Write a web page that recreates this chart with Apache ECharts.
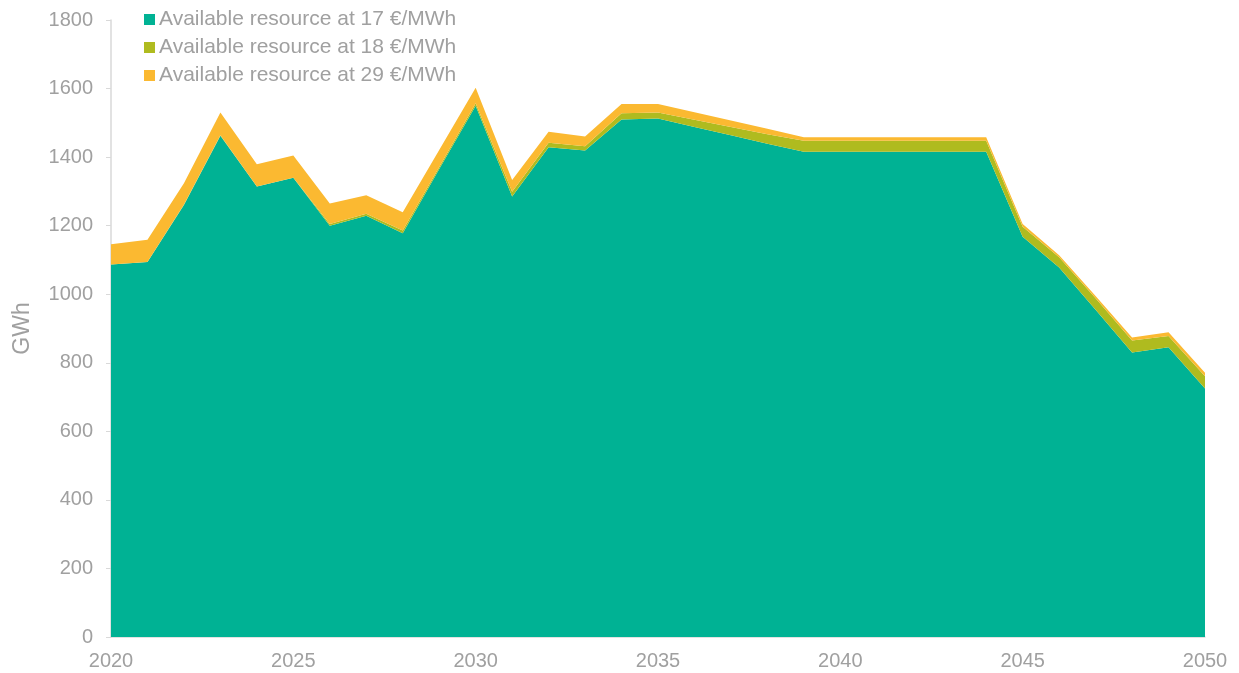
<!DOCTYPE html>
<html>
<head>
<meta charset="utf-8">
<script src="https://cdn.jsdelivr.net/npm/echarts@6/dist/echarts.min.js"></script>
<style>
  html, body { margin: 0; padding: 0; background: #fff; }
  #chart { width: 1239px; height: 673px; }
</style>
</head>
<body>
<div id="chart"></div>
<script>
// years on the x axis
var years = [];
for (var y = 2020; y <= 2050; y++) years.push(String(y));

// GWh per layer (stacked)
var res17 = [1087, 1094, 1260, 1462, 1314, 1340, 1200, 1229, 1178, 1365, 1550, 1285, 1429, 1419, 1510, 1513,
  1488, 1464, 1439, 1416, 1416, 1416, 1416, 1416, 1416, 1168, 1078, 955, 830, 845, 725];
var res18 = [0, 0, 2, 2, 0, 0, 5, 6, 8, 6, 7, 14, 13, 13, 18, 17,
  21, 24, 28, 32, 32, 32, 32, 32, 32, 29, 30, 33, 35, 33, 36];
var res29 = [59, 65, 62, 66, 65, 65, 60, 54, 53, 50, 45, 34, 32, 28, 27, 25,
  22, 19, 16, 10, 10, 10, 10, 10, 10, 8, 6, 7, 9, 11, 10];

var names = ["Available resource at 17 €/MWh", "Available resource at 18 €/MWh", "Available resource at 29 €/MWh"];
var colors = ["#00b294", "#afbb1f", "#fbb931"];

var myChart = echarts.init(document.getElementById("chart"));
var txt = "#a0a0a0";

function layer(i, data) {
  return {
    name: names[i],
    type: "line",
    stack: "total",
    data: data,
    showSymbol: false,
    lineStyle: { width: 0 },
    itemStyle: { color: colors[i] },
    areaStyle: { color: colors[i], opacity: 1 }
  };
}

var option = {
  animation: false,
  textStyle: { fontFamily: "Liberation Sans, Arial, sans-serif" },
  grid: { left: 111, right: 34, top: 20, bottom: 36 },
  legend: {
    orient: "vertical",
    left: 139,
    top: 4,
    itemWidth: 11,
    itemHeight: 11,
    itemGap: 7,
    icon: "rect",
    textStyle: { color: txt, fontSize: 21, padding: [0, 0, 0, -1] },
    data: names
  },
  xAxis: {
    type: "category",
    data: years,
    boundaryGap: false,
    axisLine: { lineStyle: { color: "#d9d9d9", width: 1.5 } },
    axisTick: { show: false },
    axisLabel: { interval: 4, color: txt, fontSize: 20, margin: 14 }
  },
  yAxis: {
    type: "value",
    min: 0,
    max: 1800,
    interval: 200,
    name: "GWh",
    nameLocation: "middle",
    nameRotate: 90,
    nameGap: 77,
    nameTextStyle: { color: txt, fontSize: 23 },
    axisLine: { show: true, lineStyle: { color: "#d9d9d9", width: 1.5 } },
    axisTick: { show: true, length: 5, lineStyle: { color: "#d9d9d9" } },
    splitLine: { show: false },
    axisLabel: {
      color: txt,
      fontSize: 20,
      margin: 18,
      formatter: function (v) { return String(v); }
    }
  },
  series: [layer(0, res17), layer(1, res18), layer(2, res29)]
};
option && myChart.setOption(option);
window.addEventListener("resize", function () {
  myChart.resize();
});
</script>
</body>
</html>
